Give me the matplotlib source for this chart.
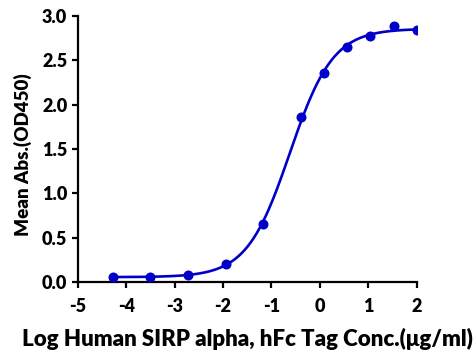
import numpy as np
import matplotlib
matplotlib.use("Agg")
import matplotlib.pyplot as plt

# data (log10 conc, mean OD450)
log_conc = [-4.277, -3.499, -2.720, -1.942, -1.164, -0.386, 0.092, 0.569, 1.046, 1.523, 2.0]
od450 = [0.06, 0.06, 0.085, 0.21, 0.66, 1.86, 2.35, 2.65, 2.77, 2.88, 2.84]

x_ticks = [-5, -4, -3, -2, -1, 0, 1, 2]
y_ticks = [0.0, 0.5, 1.0, 1.5, 2.0, 2.5, 3.0]

BLUE = "#0000C8"


def four_pl(x, p):
    bottom, top, log_ec50, hill = p
    return bottom + (top - bottom) / (1 + 10 ** ((log_ec50 - x) * hill))


def fit_four_pl(x, y, p0, n_iter=200):
    """Small damped Gauss-Newton fit of the 4PL model."""
    p = np.array(p0, dtype=float)
    lam = 1e-3
    for _ in range(n_iter):
        r = y - four_pl(x, p)
        J = np.empty((len(x), 4))
        for k in range(4):
            dp = np.zeros(4)
            dp[k] = 1e-6
            J[:, k] = (four_pl(x, p + dp) - four_pl(x, p - dp)) / 2e-6
        A = J.T @ J
        step = np.linalg.solve(A + lam * np.diag(np.diag(A)), J.T @ r)
        p_new = p + step
        if np.sum((y - four_pl(x, p_new)) ** 2) < np.sum(r ** 2):
            p = p_new
            lam *= 0.5
        else:
            lam *= 4
    return p


x = np.array(log_conc)
y = np.array(od450)
params = fit_four_pl(x, y, [0.05, 2.85, -0.7, 1.0])

plt.rcParams['font.family'] = ['Lato', 'DejaVu Sans']
plt.rcParams['font.weight'] = 'heavy'

fig = plt.figure(figsize=(4.75, 3.54), dpi=100)
ax = fig.add_axes([0.1636, 0.2025, 0.7136, 0.7531])

xs = np.linspace(x.min(), x.max(), 400)
ax.plot(xs, four_pl(xs, params), color=BLUE, linewidth=1.9, zorder=2)
ax.plot(x, y, 'o', color=BLUE, markersize=6.2, zorder=3)

ax.set_xlim(-5, 2)
ax.set_ylim(0, 3.0)
ax.set_xticks(x_ticks)
ax.set_xticklabels([str(t) for t in x_ticks], fontsize=13, fontweight='heavy')
ax.set_yticks(y_ticks)
ax.set_yticklabels([f"{t:.1f}" for t in y_ticks], fontsize=13, fontweight='heavy')

for side in ['top', 'right']:
    ax.spines[side].set_visible(False)
for side in ['left', 'bottom']:
    ax.spines[side].set_linewidth(1.6)
ax.tick_params(axis='both', direction='out', length=4.5, width=1.6, pad=3)
ax.tick_params(axis='x', pad=7)

ax.set_xlabel("Log Human SIRP alpha, hFc Tag Conc.(\u03bcg/ml)",
              fontsize=16, fontweight='heavy')
ax.set_ylabel("Mean Abs.(OD450)", fontsize=13.5, fontweight='heavy')
ax.xaxis.set_label_coords(0.5, -0.17)
ax.yaxis.set_label_coords(-0.135, 0.48)

fig.savefig("out.png", dpi=100)
